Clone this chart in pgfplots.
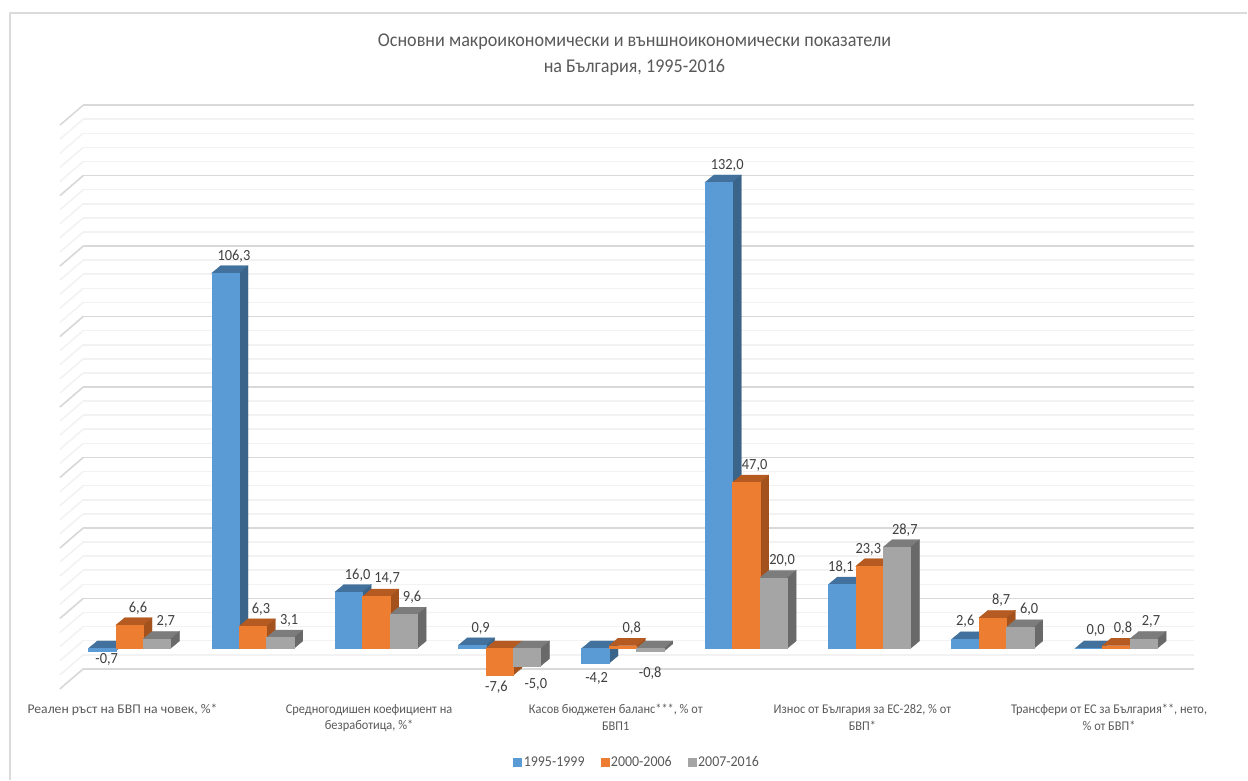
\documentclass[border=0pt]{standalone}
\usepackage{pgfplots}
\pgfplotsset{compat=1.18}
\usepackage{fontspec}
\setmainfont[FakeStretch=0.93]{Carlito}
\definecolor{txt}{HTML}{595959}
\definecolor{lbl}{HTML}{404040}
\definecolor{bluef}{HTML}{5B9BD5}
\definecolor{bluet}{HTML}{41719C}
\definecolor{blues}{HTML}{3A6489}
\definecolor{orangef}{HTML}{ED7D31}
\definecolor{oranget}{HTML}{B55B21}
\definecolor{oranges}{HTML}{A4521D}
\definecolor{grayf}{HTML}{A5A5A5}
\definecolor{grayt}{HTML}{7C7C7C}
\definecolor{grays}{HTML}{696969}
% one 3D bar: group, series (0,1,2), value, colour prefix, label, label shift x, y
\newcommand{\barfaces}[7]{%
  \pgfmathsetmacro{\xl}{#1+(#2-1.5)*0.2224}%
  \pgfmathsetmacro{\xr}{\xl+0.2224}%
  \pgfmathsetmacro{\xlb}{\xl+0.0729}%
  \pgfmathsetmacro{\xrb}{\xr+0.0729}%
  \pgfmathsetmacro{\vv}{#3}%
  \pgfmathsetmacro{\up}{max(#3,0)}%
  \pgfmathsetmacro{\upb}{\up+2.12}%
  \pgfmathsetmacro{\vb}{#3+2.12}%
  \addplot[fill=#4t,draw=#4t,line width=0.2pt,forget plot] coordinates {(\xl,\up)(\xr,\up)(\xrb,\upb)(\xlb,\upb)} --cycle;
  \addplot[fill=#4s,draw=#4s,line width=0.2pt,forget plot] coordinates {(\xr,\vv)(\xr,0)(\xrb,2.12)(\xrb,\vb)} --cycle;
  \addplot[fill=#4f,draw=#4f,line width=0.2pt,forget plot] coordinates {(\xl,0)(\xl,\vv)(\xr,\vv)(\xr,0)} --cycle;
}
\newcommand{\barlabel}[7]{%
  \pgfmathsetmacro{\xc}{#1+(#2-1)*0.2224}%
  \edef\tmp{\noexpand\node[lab] at (axis cs:\xc,#3) [xshift=#6pt,yshift=#7pt] {#5};}\tmp
}
\newcommand{\chartdata}{%
\dbar{0}{0}{-0.7}{blue}{-0,7}{4.7}{-8.5}
\dbar{0}{1}{6.6}{orange}{6,6}{8.6}{17}
\dbar{0}{2}{2.7}{gray}{2,7}{9}{17}
\dbar{1}{0}{106.3}{blue}{106,3}{8.6}{17}
\dbar{1}{1}{6.3}{orange}{6,3}{8.3}{17}
\dbar{1}{2}{3.1}{gray}{3,1}{9}{16.6}
\dbar{2}{0}{16.0}{blue}{16,0}{9}{17}
\dbar{2}{1}{14.7}{orange}{14,7}{11}{17.7}
\dbar{2}{2}{9.6}{gray}{9,6}{8.6}{17.3}
\dbar{3}{0}{0.9}{blue}{0,9}{8.7}{17.3}
\dbar{3}{1}{-7.6}{orange}{-7,6}{-3}{-11.7}
\dbar{3}{2}{-5.0}{gray}{-5,0}{9}{-18}
\dbar{4}{0}{-4.2}{blue}{-4,2}{1.3}{-15}
\dbar{4}{1}{0.8}{orange}{0,8}{9}{17.6}
\dbar{4}{2}{-0.8}{gray}{-0,8}{0}{-22}
\dbar{5}{0}{132.0}{blue}{132,0}{8.6}{17}
\dbar{5}{1}{47.0}{orange}{47,0}{8.6}{17}
\dbar{5}{2}{20.0}{gray}{20,0}{8.6}{17}
\dbar{6}{0}{18.1}{blue}{18,1}{-1}{17}
\dbar{6}{1}{23.3}{orange}{23,3}{-1}{17}
\dbar{6}{2}{28.7}{gray}{28,7}{8}{17}
\dbar{7}{0}{2.6}{blue}{2,6}{0}{18}
\dbar{7}{1}{8.7}{orange}{8,7}{8.4}{17.7}
\dbar{7}{2}{6.0}{gray}{6,0}{9}{17.7}
\dbar{8}{0}{0.0}{blue}{0,0}{7}{17.6}
\dbar{8}{1}{0.8}{orange}{0,8}{7}{17.6}
\dbar{8}{2}{2.7}{gray}{2,7}{7.5}{17}
}
\begin{document}
\begin{tikzpicture}
\begin{axis}[
  scale only axis, width=1248pt, height=780pt,
  xmin=-1.0494, xmax=9.0640,
  ymin=-37.15, ymax=183.65,
  axis line style={draw=none}, major tick length=0pt, clip=false,
  ytick=\empty,
  xtick={0,2,4,6,8},
  xticklabels={{\addfontfeature{FakeStretch=1.03}Реален ръст на БВП на човек, \%*},
    {Средногодишен коефициент на\\безработица, \%*},
    {Касов бюджетен баланс***, \% от\\БВП1},
    {Износ от България за ЕС-282, \% от\\БВП*},
    {Трансфери от ЕС за България**, нето,\\\% от БВП*}},
  xticklabel style={font=\fontsize{13.3}{16.8}\selectfont, text=txt, align=center,
    anchor=north, xshift=-7pt, yshift=79pt},
  title={Основни макроикономически и външноикономически показатели\\на България, 1995-2016},
  title style={at={(axis cs:4.095,183.65)}, anchor=north, yshift=-36pt, align=center,
    font=\fontsize{19.5}{26}\selectfont, text=txt},
  legend style={at={(axis cs:4.117,-32.2)}, anchor=center, draw=none, fill=none,
    legend columns=3, font=\fontsize{15}{16}\selectfont, text=txt,
    /tikz/every even column/.append style={column sep=14pt}},
  legend image code/.code={\fill[#1] (0pt,-4pt) rectangle (8pt,4pt);},
  lab/.style={},
]
% chart frame
\draw[color=black!14,line width=1.5pt] (axis cs:-0.9684,-37.15) -- (axis cs:-0.9684,180) -- (axis cs:9.064,180);
% back wall and side wall grid
\pgfplotsinvokeforeach{1,...,40}{%
  \draw[color=black!5,line width=1.6pt] (axis cs:-0.3746,153.9-3.992*#1) -- (axis cs:8.634,153.9-3.992*#1);
  \draw[color=black!5,line width=1.6pt] (axis cs:-0.3746,153.9-3.992*#1) -- (axis cs:-0.5634,148.23-3.992*#1);
}
\pgfplotsinvokeforeach{0,5,...,40}{%
  \draw[color=black!15,line width=1.6pt] (axis cs:-0.3746,153.9-3.992*#1) -- (axis cs:8.634,153.9-3.992*#1);
  \draw[color=black!15,line width=1.6pt] (axis cs:-0.3746,153.9-3.992*#1) -- (axis cs:-0.5634,148.23-3.992*#1);
}
\addlegendimage{bluef,fill=bluef}\addlegendentry{1995-1999}
\addlegendimage{orangef,fill=orangef}\addlegendentry{2000-2006}
\addlegendimage{grayf,fill=grayf}\addlegendentry{2007-2016}
\tikzset{lab/.style={font=\fontsize{15.5}{16}\selectfont,text=lbl}}
\let\dbar\barfaces
\chartdata
\let\dbar\barlabel
\chartdata
\end{axis}
\end{tikzpicture}
\end{document}
